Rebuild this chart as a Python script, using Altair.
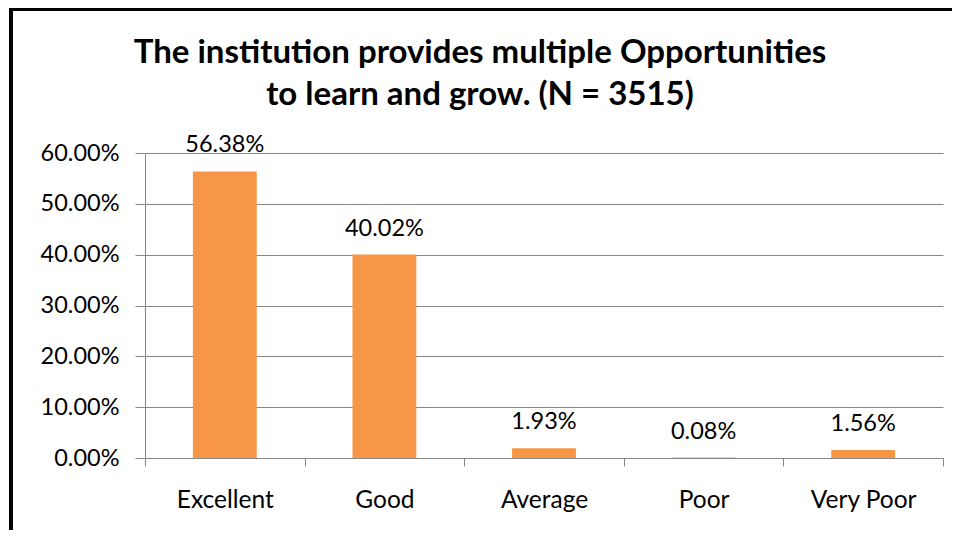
import altair as alt
import pandas as pd

categories = ["Excellent", "Good", "Average", "Poor", "Very Poor"]
values = [0.5638, 0.4002, 0.0193, 0.0008, 0.0156]
y_ticks = [0, 0.1, 0.2, 0.3, 0.4, 0.5, 0.6]
title_lines = ["The institution provides multiple Opportunities",
               "to learn and grow. (N = 3515)"]

df = pd.DataFrame({"category": categories, "value": values})
title_df = pd.DataFrame({"t": ["\n".join(title_lines)]})

FONT = "Lato"
GRID = "#878787"
BAR = "#F79646"

base = alt.Chart(df)

x_enc = alt.X("category:N", sort=categories, title=None,
              scale=alt.Scale(paddingInner=0, paddingOuter=0),
              axis=alt.Axis(labelAngle=0, tickBand="extent", tickSize=8,
                            tickColor=GRID, domainColor=GRID, labelFontSize=24.5,
                            labelFont=FONT, labelColor="#000000", labelPadding=41,
                            labelBaseline="alphabetic", grid=False))
y_enc = alt.Y("value:Q", title=None,
              scale=alt.Scale(domain=[0, 0.6], nice=False),
              axis=alt.Axis(values=y_ticks, format=".2%", tickSize=10, tickColor=GRID,
                            domainColor=GRID, gridColor=GRID, grid=True,
                            labelFontSize=23.5, labelFont=FONT, labelColor="#000000",
                            labelPadding=16))

bars = base.mark_bar(color=BAR, width=alt.RelativeBandSize(0.4)).encode(x=x_enc, y=y_enc)
labels = base.mark_text(font=FONT, fontSize=23.5, dy=-19, baseline="alphabetic",
                        color="#000000").encode(
    x=alt.X("category:N", sort=categories),
    y="value:Q",
    text=alt.Text("value:Q", format=".2%"))

title = alt.Chart(title_df).mark_text(
    font=FONT, fontSize=33, fontWeight="bold", color="#000000", align="center",
    baseline="alphabetic", lineBreak="\n", lineHeight=42).encode(
    x=alt.value(335), y=alt.value(-90), text="t:N")

border_left = base.mark_rule(color="#000000", strokeWidth=4).encode(
    x=alt.value(-134), y=alt.value(-146), y2=alt.value(400))
border_top = base.mark_rule(color="#000000", strokeWidth=3).encode(
    x=alt.value(-136), x2=alt.value(820), y=alt.value(-143.5))

chart = alt.layer(bars, labels, title, border_left, border_top).properties(
    width=798, height=305,
    padding={"left": 137, "top": 145, "right": 9, "bottom": 72},
    autosize=alt.AutoSizeParams(type="none"),
).configure_view(stroke=None)

chart.save("out.html", embed_options={"renderer": "svg", "actions": False})
